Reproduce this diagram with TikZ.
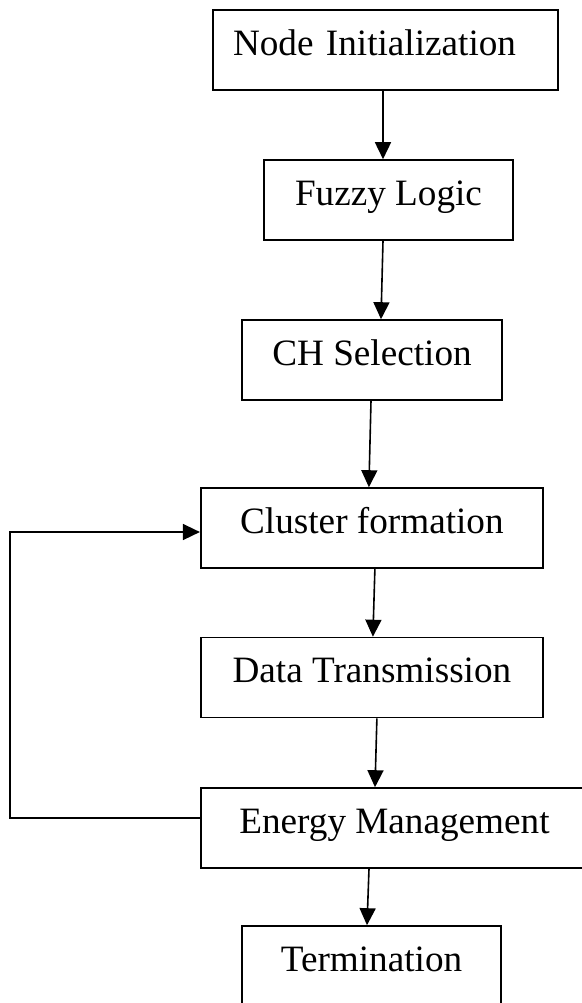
\documentclass[tikz,border=0pt]{standalone}
\usepackage{fontspec}
\setmainfont{Liberation Serif}
\usetikzlibrary{arrows.meta}
\tikzset{
  box/.style={draw, line width=0.8pt, minimum height=40pt, inner sep=0pt,
    text height=14pt, text depth=9pt, font=\fontsize{18.6}{22}\selectfont},
  arr/.style={-{Triangle[length=8.5pt,width=8pt]}, line width=0.8pt}
}
\begin{document}
\begin{tikzpicture}[x=0.5pt,y=-0.5pt]
    \useasboundingbox (0,0) rectangle (582,1003);
    \clip (0,0) rectangle (582,1003);

    \node[box, minimum width=172.5pt, text width=152.5pt, inner xsep=10pt, align=left]
        (init) at (385.5,50) {Node Initialization};
    \node[box, minimum width=124.5pt] (fuzzy) at (388.5,200) {Fuzzy Logic};
    \node[box, minimum width=130pt] (chsel) at (372,360) {CH Selection};
    \node[box, minimum width=171.2pt] (cluster) at (371.9,528) {Cluster formation};
    \node[box, minimum width=171.2pt] (data) at (371.9,677.5) {Data Transmission};
    \node[box, minimum width=193.5pt] (energy) at (394.5,828) {Energy Management};
    \node[box, minimum width=129.5pt] (term) at (371.5,966) {Termination};
    \coordinate (back) at (10,818);

    \draw[arr] ([xshift=-1.25pt]init.south) -- ([xshift=-2.75pt]fuzzy.north);
    \draw[arr] ([xshift=-2.75pt]fuzzy.south) -- ([xshift=4.5pt]chsel.north);
    \draw[arr] ([xshift=-0.5pt]chsel.south) -- ([xshift=-1.5pt]cluster.north);
    \draw[arr] ([xshift=1.5pt]cluster.south) -- ([xshift=0.5pt]data.north);
    \draw[arr] ([xshift=2.5pt]data.south) -- ([xshift=-9.75pt]energy.north);
    \draw[arr] ([xshift=-12.75pt]energy.south) -- ([xshift=-2.25pt]term.north);
    \draw[arr] ([yshift=5pt]energy.west) -- (back) |- ([yshift=-2pt]cluster.west);
\end{tikzpicture}
\end{document}
